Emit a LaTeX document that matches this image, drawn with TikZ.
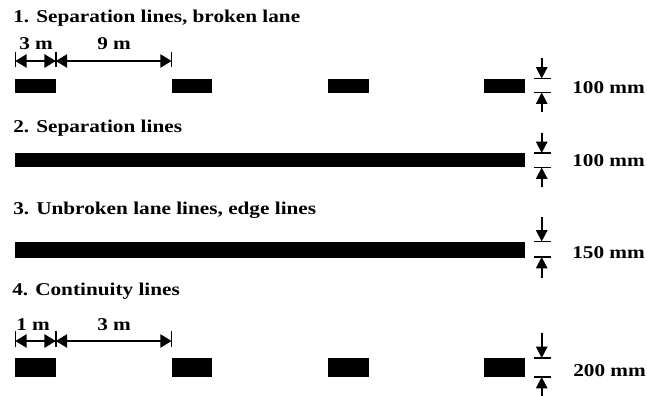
\documentclass[tikz,border=0pt]{standalone}
\usepackage{fontspec}
\setmainfont{Liberation Serif}[FakeStretch=1.18]
\usetikzlibrary{arrows.meta}
\begin{document}
\begin{tikzpicture}[x=0.75pt,y=-0.75pt,
  lbl/.style={font=\bfseries\fontsize{13.5pt}{15pt}\selectfont, inner sep=0pt, anchor=base west},
  bar/.style={fill=black},
  tickline/.style={line width=1.1pt},
  dimline/.style={line width=1.2pt, {Triangle[length=8.5pt,width=10pt]}-{Triangle[length=8.5pt,width=10pt]}},
  vdim/.style={line width=1.2pt, -{Triangle[length=8.5pt,width=8.5pt]}}]
\useasboundingbox (0,0) rectangle (647,396);

% ---------- 1. Separation lines, broken lane ----------
\node[lbl] (t1) at (13,22.5) {1. Separation lines, broken lane};
\foreach \i in {0,1,2,3}
  \fill[bar] (15.3+156.3*\i,78.5) rectangle ++(40.7,14);
\coordinate (a1) at (15.3,61);
\coordinate (a2) at (55.8,61);
\coordinate (a3) at (171.6,61);
\foreach \c in {a1,a2,a3}
  \draw[tickline] (\c) ++(0,-9) -- ++(0,15);
\draw[dimline] (a1) -- (a2);
\draw[dimline] (a2) -- (a3);
\node[lbl] (d1) at (19,50) {3 m};
\node[lbl] (d2) at (97,50) {9 m};
% thickness marker
\coordinate (u1) at (541.7,78.5);
\coordinate (l1) at (541.7,92.5);
\draw[tickline] (534,78.5) -- (551,78.5);
\draw[tickline] (534,92.5) -- (551,92.5);
\coordinate (u1s) at (541.7,58);
\coordinate (l1s) at (541.7,112);
\draw[vdim] (u1s) -- (u1);
\draw[vdim] (l1s) -- (l1);
\node[lbl] (m1) at (572,93.5) {100 mm};

% ---------- 2. Separation lines ----------
\node[lbl] (t2) at (13,132) {2. Separation lines};
\fill[bar] (15.3,153) rectangle (525,167);
\coordinate (u2) at (541.7,153);
\coordinate (l2) at (541.7,167.5);
\draw[tickline] (534,153) -- (551,153);
\draw[tickline] (534,167.5) -- (551,167.5);
\coordinate (u2s) at (541.7,133);
\coordinate (l2s) at (541.7,187);
\draw[vdim] (u2s) -- (u2);
\draw[vdim] (l2s) -- (l2);
\node[lbl] (m2) at (572,166) {100 mm};

% ---------- 3. Unbroken lane lines, edge lines ----------
\node[lbl] (t3) at (13,214) {3. Unbroken lane lines, edge lines};
\fill[bar] (15.3,241.5) rectangle (525,257.5);
\coordinate (u3) at (541.7,241.5);
\coordinate (l3) at (541.7,257);
\draw[tickline] (534,241.5) -- (551,241.5);
\draw[tickline] (534,257) -- (551,257);
\coordinate (u3s) at (541.7,217);
\coordinate (l3s) at (541.7,278);
\draw[vdim] (u3s) -- (u3);
\draw[vdim] (l3s) -- (l3);
\node[lbl] (m3) at (572,258) {150 mm};

% ---------- 4. Continuity lines ----------
\node[lbl] (t4) at (12,295) {4. Continuity lines};
\foreach \i in {0,1,2,3}
  \fill[bar] (15.3+156.3*\i,358) rectangle ++(40.7,19);
\coordinate (b1) at (15.3,341);
\coordinate (b2) at (55.8,341);
\coordinate (b3) at (171.6,341);
\foreach \c in {b1,b2,b3}
  \draw[tickline] (\c) ++(0,-10) -- ++(0,16);
\draw[dimline] (b1) -- (b2);
\draw[dimline] (b2) -- (b3);
\node[lbl] (e1) at (16,330) {1 m};
\node[lbl] (e2) at (97,330) {3 m};
\coordinate (u4) at (541.7,358);
\coordinate (l4) at (541.7,377);
\draw[tickline] (534,358) -- (551,358);
\draw[tickline] (534,377) -- (551,377);
\coordinate (u4s) at (541.7,333);
\coordinate (l4s) at (541.7,396);
\draw[vdim] (u4s) -- (u4);
\draw[vdim] (l4s) -- (l4);
\node[lbl] (m4) at (573,376) {200 mm};
\end{tikzpicture}
\end{document}
